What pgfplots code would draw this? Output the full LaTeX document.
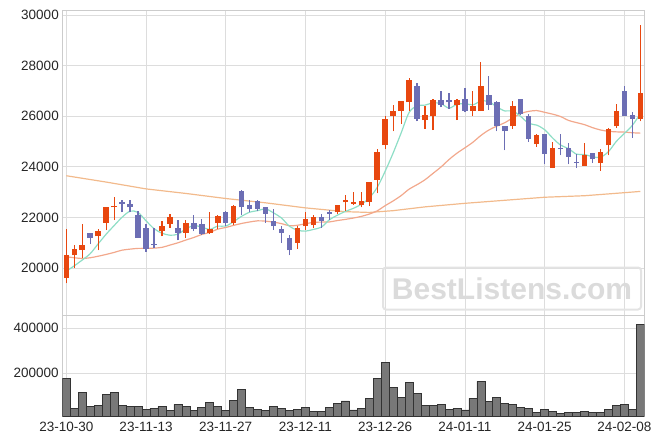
\documentclass[border=0pt]{standalone}
\usepackage{pgfplots}
\pgfplotsset{compat=1.18}
\usepackage{pgfplotstable}
\usepackage{fontspec}
\setmainfont{Liberation Sans}
\definecolor{upc}{HTML}{E8470F}
\definecolor{dnc}{HTML}{6C6EB4}
\definecolor{maA}{HTML}{8EDEC6}
\definecolor{maB}{HTML}{F2A88C}
\definecolor{maC}{HTML}{F2BA8C}
\definecolor{gridc}{HTML}{DDDDDD}
\definecolor{framec}{HTML}{CCCCCC}

\pgfplotstableread{
x O H L C
0 19600 21550 19400 20500
1 20500 20900 20000 20750
2 20700 21750 20400 20900
4 21250 21550 20700 21450
5 21800 22400 21500 22400
6 22400 22800 21900 22450
12 21450 21850 21250 21650
13 21750 22150 21600 22000
15 21400 21900 21200 21800
18 21400 22200 21350 21550
19 21800 22100 21550 22050
21 21800 22500 21700 22450
29 21000 21650 20750 21600
30 21650 22200 21500 21950
31 21700 22100 21600 22000
34 22200 22500 22150 22500
35 22600 22900 22250 22700
36 22550 23000 22500 22600
37 22500 23000 22400 22650
38 22600 23400 22450 23400
39 23500 24700 22950 24600
40 24850 26000 24700 25900
41 26000 26450 25400 26200
42 26200 26600 25700 26600
43 26550 27500 26200 27450
45 25850 26400 25500 26050
46 26000 26700 25450 26650
49 26450 26700 25850 26650
51 26200 27000 26000 26400
52 26200 28150 26200 27200
56 25600 26600 25500 26400
59 24900 25300 24800 25250
61 23950 25000 23950 24750
65 24050 24950 24050 24450
67 24150 24700 23850 24600
68 24850 25550 24450 25500
69 25600 26500 25550 26200
72 25900 29600 25800 26900
}\up

\pgfplotstableread{
x O H L C
3 21400 21400 20950 21200
7 22600 22700 22200 22550
8 22550 22700 22200 22400
9 22100 22250 21200 21200
10 21600 21750 20650 20750
11 20950 21600 20800 20900
14 21600 21900 21100 21400
16 21800 22100 21450 21550
17 21750 21950 21300 21350
20 22200 22250 21650 21800
22 23050 23100 22100 22400
23 22500 22700 22200 22350
24 22650 22700 22250 22350
25 22400 22400 21800 22150
26 21850 22350 21500 21650
27 21550 21650 21000 21400
28 21200 21300 20500 20700
32 22000 22150 21600 21850
33 22200 22300 21900 22150
44 27200 27300 25800 25900
47 26650 27000 26350 26450
48 26650 26900 26300 26550
50 26700 27100 26150 26200
53 26850 27600 26250 26450
54 26550 26600 25400 25600
55 25600 25600 24650 25400
57 26700 26700 26050 26100
58 26000 26100 25000 25100
60 25300 25300 24100 24500
62 24750 25300 24450 24700
63 24750 24950 24100 24400
64 24200 24500 23950 24150
66 24550 24550 24150 24300
70 27000 27200 26000 26000
71 26050 26150 25150 25900
}\down

\pgfplotstableread{
x ma5 ma20
0 19880 20450
1 20090 20410
2 20320 20380
3 20570 20410
4 20960 20470
5 21340 20540
6 21680 20620
7 22010 20710
8 22250 20750
9 22200 20780
10 21870 20780
11 21560 20790
12 21380 20820
13 21300 20910
14 21340 21000
15 21550 21110
16 21680 21210
17 21620 21330
18 21530 21410
19 21660 21540
20 21660 21605
21 21840 21690
22 22050 21765
23 22210 21823
24 22270 21868
25 22340 21855
26 22180 21815
27 21980 21758
28 21650 21673
29 21500 21693
30 21460 21753
31 21530 21808
32 21620 21818
33 21910 21825
34 22090 21880
35 22240 21925
36 22360 21978
37 22520 22043
38 22770 22135
39 23190 22263
40 23830 22468
41 24550 22655
42 25340 22865
43 26150 23120
44 26410 23298
45 26440 23493
46 26530 23743
47 26500 23995
48 26320 24288
49 26470 24540
50 26500 24753
51 26450 24973
52 26600 25240
53 26580 25455
54 26370 25610
55 26210 25745
56 26210 25935
57 25990 26108
58 25720 26193
59 25650 26225
60 25470 26155
61 25140 26083
62 24860 25988
63 24720 25835
64 24500 25748
65 24490 25668
66 24400 25550
67 24380 25458
68 24600 25405
69 25010 25383
70 25320 25373
71 25640 25348
72 26100 25333
}\ma

\pgfplotstableread{
x ma
0 23650
5 23400
10 23130
15 22950
20 22750
25 22580
30 22380
35 22230
38 22200
41 22270
45 22420
50 22560
55 22680
60 22800
65 22860
70 22980
72 23030
}\malong

\pgfplotstableread{
x v
0 177800
1 44400
2 115500
3 51600
4 57800
5 106700
6 115500
7 57800
8 51600
9 51600
10 40000
11 44400
12 51600
13 33800
14 62200
15 51600
16 33800
17 48900
18 71100
19 51600
20 33800
21 80000
22 128900
23 48900
24 40000
25 33800
26 51600
27 44400
28 33800
29 40000
30 48900
31 31100
32 31100
33 48900
34 66700
35 76900
36 36900
37 44400
38 88900
39 177800
40 248900
41 137800
42 93300
43 160000
44 111100
45 57800
46 57800
47 62200
48 40000
49 44400
50 36900
51 88900
52 164400
53 75500
54 93300
55 66700
56 62200
57 48900
58 44400
59 26700
60 40000
61 31100
62 22200
63 26700
64 26700
65 31100
66 26700
67 26700
68 40000
69 57800
70 62200
71 40000
72 417800
}\vol

\pgfplotsset{
  base/.style={
    scale only axis, width=582pt, anchor=south west,
    xmin=-0.5, xmax=72.5,
    xtick={0,10,...,70},
    grid=major, grid style={gridc, line width=0.8pt},
    axis line style={framec, line width=0.8pt},
    major tick length=0pt,
    tick label style={font=\fontsize{13.5}{16}\selectfont, text=black!85},
    /pgf/number format/fixed,
    /pgf/number format/precision=0,
    /pgf/number format/assume math mode=true,
    /pgf/number format/1000 sep={},
    scaled y ticks=false,
    clip=true,
  },
  candle/.style={only marks, mark=*, mark size=0pt,
    mark options={draw=none, fill=none, opacity=0}, forget plot,
    error bars/.cd, y dir=plus, y explicit, error mark=none,
    error bar style={line width=#1}},
}

\begin{document}
\begin{tikzpicture}
\path[use as bounding box] (0pt,0pt) rectangle (663pt,445pt);

\begin{axis}[base, at={(62.3pt,129.3pt)}, height=305pt,
  ymin=18120, ymax=30170,
  ytick={20000,22000,...,30000},
  xticklabels={}]
  \addplot[maC, line width=1.2pt, forget plot] table[x=x, y=ma] {\malong};
  \addplot[maB, line width=1.2pt, smooth, forget plot] table[x=x, y=ma20] {\ma};
  \addplot[maA, line width=1.2pt, smooth, forget plot] table[x=x, y=ma5] {\ma};
  % wicks
  \addplot[upc, candle=1.2pt]
    table[x=x, y=L, y error expr=\thisrow{H}-\thisrow{L}] {\up};
  \addplot[dnc, candle=1.2pt]
    table[x=x, y=L, y error expr=\thisrow{H}-\thisrow{L}] {\down};
  % bodies
  \addplot[upc, candle=5.5pt]
    table[x=x, y=O, y error expr={max(\thisrow{C}-\thisrow{O},40)}] {\up};
  \addplot[dnc, candle=5.5pt]
    table[x=x, y=C, y error expr={max(\thisrow{O}-\thisrow{C},40)}] {\down};
\end{axis}

\node[draw=black!11, line width=2pt, rounded corners=3pt, minimum width=258pt, minimum height=42pt,
  text=black!14, font=\fontsize{30}{32}\selectfont\bfseries, inner sep=0pt]
  at (512pt,156.5pt) {BestListens.com};

\begin{axis}[base, at={(62.3pt,29pt)}, height=100.3pt,
  ymin=10200, ymax=456000,
  ytick={200000,400000},
  xticklabel style={yshift=-2.5pt},
  xticklabels={23-10-30,23-11-13,23-11-27,23-12-11,23-12-26,24-01-11,24-01-25,24-02-08}]
  \addplot[ybar, bar width=1, bar shift=0pt, fill=black!53, draw=black!80, line width=0.7pt]
    table[x=x, y=v] {\vol};
\end{axis}
\end{tikzpicture}
\end{document}
